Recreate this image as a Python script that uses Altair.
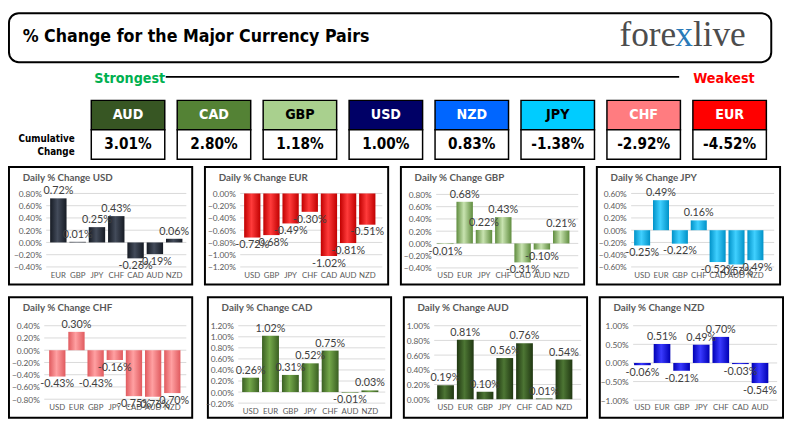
import altair as alt
import pandas as pd

NARROW = "'Liberation Sans Narrow', 'DejaVu Sans Condensed', sans-serif"
SANS = "Lato, 'Open Sans', sans-serif"

# ---- header data ----
strength_order = ["AUD", "CAD", "GBP", "USD", "NZD", "JPY", "CHF", "EUR"]
cumulative = [3.01, 2.80, 1.18, 1.00, 0.83, -1.38, -2.92, -4.52]
box_fill = ["#375623", "#548235", "#a9d08e", "#000066", "#0066ff", "#00ccff", "#ff7c80", "#ff0000"]
box_text = ["white", "white", "black", "white", "white", "black", "white", "white"]

# ---- panel data ----
usd_cats = ["EUR", "GBP", "JPY", "CHF", "CAD", "AUD", "NZD"]
usd_vals = [0.72, 0.01, 0.25, 0.43, -0.26, -0.19, 0.06]
usd_ticks = [-0.4, -0.2, 0.0, 0.2, 0.4, 0.6, 0.8]

eur_cats = ["USD", "GBP", "JPY", "CHF", "CAD", "AUD", "NZD"]
eur_vals = [-0.72, -0.68, -0.49, -0.30, -1.02, -0.81, -0.51]
eur_ticks = [-1.2, -1.0, -0.8, -0.6, -0.4, -0.2, 0.0]

gbp_cats = ["USD", "EUR", "JPY", "CHF", "CAD", "AUD", "NZD"]
gbp_vals = [-0.01, 0.68, 0.22, 0.43, -0.31, -0.10, 0.21]
gbp_ticks = [-0.4, -0.2, 0.0, 0.2, 0.4, 0.6, 0.8]

jpy_cats = ["USD", "EUR", "GBP", "CHF", "CAD", "AUD", "NZD"]
jpy_vals = [-0.25, 0.49, -0.22, 0.16, -0.52, -0.56, -0.49]
jpy_ticks = [-0.6, -0.4, -0.2, 0.0, 0.2, 0.4, 0.6]

chf_cats = ["USD", "EUR", "GBP", "JPY", "CAD", "AUD", "NZD"]
chf_vals = [-0.43, 0.30, -0.43, -0.16, -0.75, -0.76, -0.70]
chf_ticks = [-0.8, -0.6, -0.4, -0.2, 0.0, 0.2, 0.4]

cad_cats = ["USD", "EUR", "GBP", "JPY", "CHF", "AUD", "NZD"]
cad_vals = [0.26, 1.02, 0.31, 0.52, 0.75, -0.01, 0.03]
cad_ticks = [-0.2, 0.0, 0.2, 0.4, 0.6, 0.8, 1.0, 1.2]

aud_cats = ["USD", "EUR", "GBP", "JPY", "CHF", "CAD", "NZD"]
aud_vals = [0.19, 0.81, 0.10, 0.56, 0.76, 0.01, 0.54]
aud_ticks = [0.0, 0.2, 0.4, 0.6, 0.8, 1.0]

nzd_cats = ["USD", "EUR", "GBP", "JPY", "CHF", "CAD", "AUD"]
nzd_vals = [-0.06, 0.51, -0.21, 0.49, 0.70, -0.03, -0.54]
nzd_ticks = [-1.0, -0.5, 0.0, 0.5, 1.0]

PW = 187


def one(text):
    return pd.DataFrame({"t": [text]})


def panel(title, cats, vals, ticks, edge, mid, h, yr, xr, ylab_right, xlab_pad):
    df = pd.DataFrame({"c": cats, "v": vals, "lab": [f"{v:.2f}%" for v in vals]})
    tdf = pd.DataFrame({"v": ticks})
    xs = alt.Scale(domain=cats, range=xr, paddingInner=0.15, paddingOuter=0)
    ys = alt.Scale(domain=[ticks[0], ticks[-1]], range=yr, nice=False, zero=False)
    yaxis = alt.Axis(values=ticks, labelExpr="format(datum.value, '.2f') + '%'",
                     title=None, grid=False, domain=False, ticks=False, tickSize=0,
                     labelPadding=-ylab_right, labelFontSize=8.5, labelColor="#595959",
                     labelFont=SANS, labelOverlap=False, labelBound=False)
    xaxis = alt.Axis(title=None, domain=False, ticks=False, tickSize=0, labelPadding=xlab_pad,
                     labelAngle=0, labelFontSize=8, labelColor="#595959", labelFont=SANS,
                     labelOverlap=False)
    grid = alt.Chart(tdf).mark_rule(color="#d9d9d9", strokeWidth=1).encode(
        y=alt.Y("v:Q", scale=ys, axis=yaxis),
        x=alt.value(ylab_right + 5), x2=alt.value(PW - 6))
    base = alt.Chart(df).encode(
        x=alt.X("c:N", scale=xs, sort=cats, axis=xaxis),
        y=alt.Y("v:Q", scale=ys, axis=yaxis))
    grad = alt.Gradient(gradient="linear",
                        stops=[alt.GradientStop(color=edge, offset=0),
                               alt.GradientStop(color=mid, offset=0.45),
                               alt.GradientStop(color=edge, offset=1)],
                        x1=0, x2=1, y1=0, y2=0)
    bars = base.mark_bar(color=grad)
    pos = base.transform_filter("datum.v >= 0").mark_text(
        baseline="bottom", dy=-2, fontSize=11, font=SANS, color="#404040").encode(text="lab:N")
    neg = base.transform_filter("datum.v < 0").mark_text(
        baseline="top", dy=2, fontSize=11, font=SANS, color="#404040").encode(text="lab:N")
    ttl = alt.Chart(one(title)).mark_text(
        align="left", baseline="middle", fontSize=10, font=SANS, fontWeight="bold",
        color="#595959").encode(text="t:N", x=alt.value(14), y=alt.value(11))
    return alt.layer(grid, bars, pos, neg, ttl).properties(width=PW, height=h)


r1 = [
    panel("Daily % Change USD", usd_cats, usd_vals, usd_ticks, "#161b24", "#434b5a", 120, [102, 27], [42, 177], 33, -13),
    panel("Daily % Change EUR", eur_cats, eur_vals, eur_ticks, "#c00000", "#ff3b3b", 120, [102, 27], [40, 174], 31, -13),
    panel("Daily % Change GBP", gbp_cats, gbp_vals, gbp_ticks, "#5f8c3e", "#c8e3b0", 120, [103, 28], [37, 172], 31, -13),
    panel("Daily % Change JPY", jpy_cats, jpy_vals, jpy_ticks, "#0092c8", "#40d0ff", 120, [102, 27], [38, 170], 30, -13),
]
r2 = [
    panel("Daily % Change CHF", chf_cats, chf_vals, chf_ticks, "#e05a5e", "#ffa0a2", 123, [104, 29], [41, 175], 31, -15),
    panel("Daily % Change CAD", cad_cats, cad_vals, cad_ticks, "#3a5f22", "#74a84a", 123, [108, 29], [35, 174], 26, -10),
    panel("Daily % Change AUD", aud_cats, aud_vals, aud_ticks, "#203712", "#4d7634", 123, [104, 29], [34, 172], 26, -15),
    panel("Daily % Change NZD", nzd_cats, nzd_vals, nzd_ticks, "#0000b4", "#3a3aff", 123, [105, 29], [35, 172], 29, -14),
]

# ---- header ----
HW = 781
hdf = pd.DataFrame({"cur": strength_order,
                    "val": [f"{v:.2f}%" for v in cumulative],
                    "fill": box_fill, "tc": box_text})
hx = alt.Scale(domain=strength_order, range=[84, 773], paddingInner=0.145, paddingOuter=0)
xenc = alt.X("cur:N", scale=hx, axis=None, sort=strength_order)
SERIF = "'Liberation Serif', 'DejaVu Serif', serif"

title_box = alt.Chart(one("")).mark_rect(
    fill="white", stroke="black", strokeWidth=2, cornerRadius=10).encode(
    x=alt.value(0), x2=alt.value(778), y=alt.value(0), y2=alt.value(50))
title_txt = alt.Chart(one("% Change for the Major Currency Pairs")).mark_text(
    align="left", baseline="middle", font=NARROW, fontWeight="bold", fontSize=18,
    color="black").encode(text="t:N", x=alt.value(14), y=alt.value(24))
logo1 = alt.Chart(one("fore")).mark_text(
    align="right", baseline="alphabetic", font=SERIF, fontSize=36,
    color="#4d4d4d").encode(text="t:N", x=alt.value(681), y=alt.value(34))
logo2 = alt.Chart(one("x")).mark_text(
    align="center", baseline="alphabetic", font=SERIF, fontSize=36,
    color="#2a7ab8").encode(text="t:N", x=alt.value(689), y=alt.value(34))
logo3 = alt.Chart(one("live")).mark_text(
    align="left", baseline="alphabetic", font=SERIF, fontSize=36,
    color="#4d4d4d").encode(text="t:N", x=alt.value(698), y=alt.value(34))
strong = alt.Chart(one("Strongest")).mark_text(
    align="left", baseline="middle", font=NARROW, fontWeight="bold", fontSize=14.5,
    color="#00b050").encode(text="t:N", x=alt.value(87), y=alt.value(67))
weak = alt.Chart(one("Weakest")).mark_text(
    align="right", baseline="middle", font=NARROW, fontWeight="bold", fontSize=14.5,
    color="#ff0000").encode(text="t:N", x=alt.value(761), y=alt.value(67))
line = alt.Chart(one("")).mark_rule(color="black", strokeWidth=2).encode(
    x=alt.value(160), x2=alt.value(684), y=alt.value(65))
cum1 = alt.Chart(one("Cumulative")).mark_text(
    align="right", baseline="middle", font=NARROW, fontWeight="bold", fontSize=10,
    color="black").encode(text="t:N", x=alt.value(67), y=alt.value(128))
cum2 = alt.Chart(one("Change")).mark_text(
    align="right", baseline="middle", font=NARROW, fontWeight="bold", fontSize=10,
    color="black").encode(text="t:N", x=alt.value(67), y=alt.value(142))
top_boxes = alt.Chart(hdf).mark_rect(stroke="black", strokeWidth=1.5).encode(
    x=xenc, y=alt.value(89), y2=alt.value(119), color=alt.Color("fill:N", scale=None))
val_boxes = alt.Chart(hdf).mark_rect(fill="white", stroke="black", strokeWidth=1.5).encode(
    x=xenc, y=alt.value(119), y2=alt.value(149))
top_txt = alt.Chart(hdf).mark_text(
    baseline="middle", font=NARROW, fontWeight="bold", fontSize=14.5).encode(
    x=xenc, y=alt.value(104), text="cur:N", color=alt.Color("tc:N", scale=None))
val_txt = alt.Chart(hdf).mark_text(
    baseline="middle", font=NARROW, fontWeight="bold", fontSize=15.5, color="black").encode(
    x=xenc, y=alt.value(134), text="val:N")

header = alt.layer(title_box, title_txt, logo1, logo2, logo3, strong, weak, line,
                   cum1, cum2, top_boxes, val_boxes, top_txt, val_txt).properties(
    width=HW, height=151, view=alt.ViewBackground(strokeOpacity=0))

rows = alt.vconcat(alt.hconcat(*r1, spacing=11), alt.hconcat(*r2, spacing=11), spacing=11)
chart = alt.vconcat(header, rows, spacing=5).properties(padding=0).configure_view(
    stroke="black", strokeWidth=2)

chart.save("out.html", embed_options={"renderer": "svg", "actions": False})
